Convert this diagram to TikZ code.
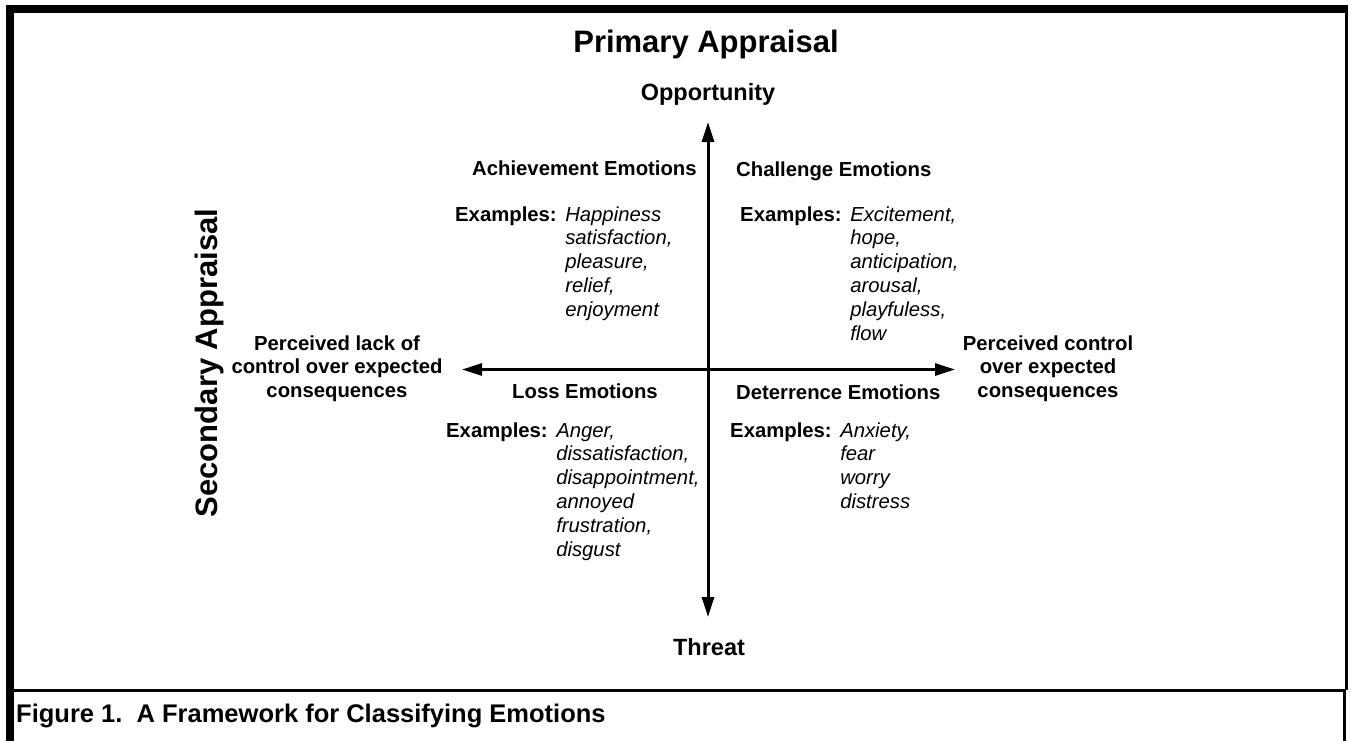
\documentclass[tikz,border=0pt]{standalone}
\usepackage{fontspec}
\setmainfont{Liberation Sans}
\usetikzlibrary{arrows.meta}
\tikzset{
  lbl/.style={inner sep=0pt, font=\fontsize{20.3}{23.9}\selectfont\bfseries},
  big/.style={inner sep=0pt, font=\fontsize{31}{36}\selectfont\bfseries},
  pole/.style={inner sep=0pt, font=\fontsize{23.5}{28}\selectfont\bfseries},
  axis/.style={line width=3pt, -{Triangle[length=20pt,width=12pt]}},
  frame/.style={fill=black, draw=none}
}
\newcommand{\exlist}[1]{\begin{tabular}[t]{@{}l@{\hspace{8.5pt}}l@{}}#1\end{tabular}}
\begin{document}
\begin{tikzpicture}[x=1pt,y=-1pt]
\useasboundingbox (0,0) rectangle (1351,741);
% frame
\fill[frame] (6,5) rectangle (14,741);
\fill[frame] (6,5) rectangle (1348,13);
\fill[frame] (1345,5) rectangle (1348,690);
\fill[frame] (1343,690) rectangle (1346,741);
\fill[frame] (14,689) rectangle (1346,692);
% titles
\node[big, anchor=base] (prim) at (706,53) {Primary Appraisal};
\node[big, anchor=base, rotate=90] (sec) at (217,363) {Secondary Appraisal};
\node[pole, anchor=base] (opp) at (708,100.5) {Opportunity};
\node[pole, anchor=base] (thr) at (709,655) {Threat};
% axes
\coordinate (c) at (708,369.5);
\coordinate (top) at (708,122);
\coordinate (bot) at (708,617);
\coordinate (lft) at (462,369.5);
\coordinate (rgt) at (955,369.5);
\draw[axis] (c) -- (top);
\draw[axis] (c) -- (bot);
\draw[axis] (c) -- (lft);
\draw[axis] (c) -- (rgt);
% side labels
\node[lbl, anchor=base] (lack) at (337,350) {\begin{tabular}[t]{@{}c@{}}Perceived lack of\\control over expected\\consequences\end{tabular}};
\node[lbl, anchor=base] (ctrl) at (1048,350) {\begin{tabular}[t]{@{}c@{}}Perceived control\\over expected\\consequences\end{tabular}};
% quadrant headings
\node[lbl, anchor=base west] (ach) at (472,175) {Achievement Emotions};
\node[lbl, anchor=base west] (cha) at (736,176) {Challenge Emotions};
\node[lbl, anchor=base west] (los) at (512,398) {Loss Emotions};
\node[lbl, anchor=base west] (det) at (736,399) {Deterrence Emotions};
% examples
\node[lbl, anchor=base west] (achx) at (455,221) {\exlist{Examples: & \textit{\mdseries Happiness}\\ & \textit{\mdseries satisfaction,}\\ & \textit{\mdseries pleasure,}\\ & \textit{\mdseries relief,}\\ & \textit{\mdseries enjoyment}}};
\node[lbl, anchor=base west] (chax) at (740,221) {\exlist{Examples: & \textit{\mdseries Excitement,}\\ & \textit{\mdseries hope,}\\ & \textit{\mdseries anticipation,}\\ & \textit{\mdseries arousal,}\\ & \textit{\mdseries playfuless,}\\ & \textit{\mdseries flow}}};
\node[lbl, anchor=base west] (losx) at (446,437) {\exlist{Examples: & \textit{\mdseries Anger,}\\ & \textit{\mdseries dissatisfaction,}\\ & \textit{\mdseries disappointment,}\\ & \textit{\mdseries annoyed}\\ & \textit{\mdseries frustration,}\\ & \textit{\mdseries disgust}}};
\node[lbl, anchor=base west] (detx) at (730,437) {\exlist{Examples: & \textit{\mdseries Anxiety,}\\ & \textit{\mdseries fear}\\ & \textit{\mdseries worry}\\ & \textit{\mdseries distress}}};
% caption
\node[inner sep=0pt, anchor=base west, font=\fontsize{25.5}{30}\selectfont\bfseries] (cap) at (16,722) {Figure 1.\ \ A Framework for Classifying Emotions};
\end{tikzpicture}
\end{document}
